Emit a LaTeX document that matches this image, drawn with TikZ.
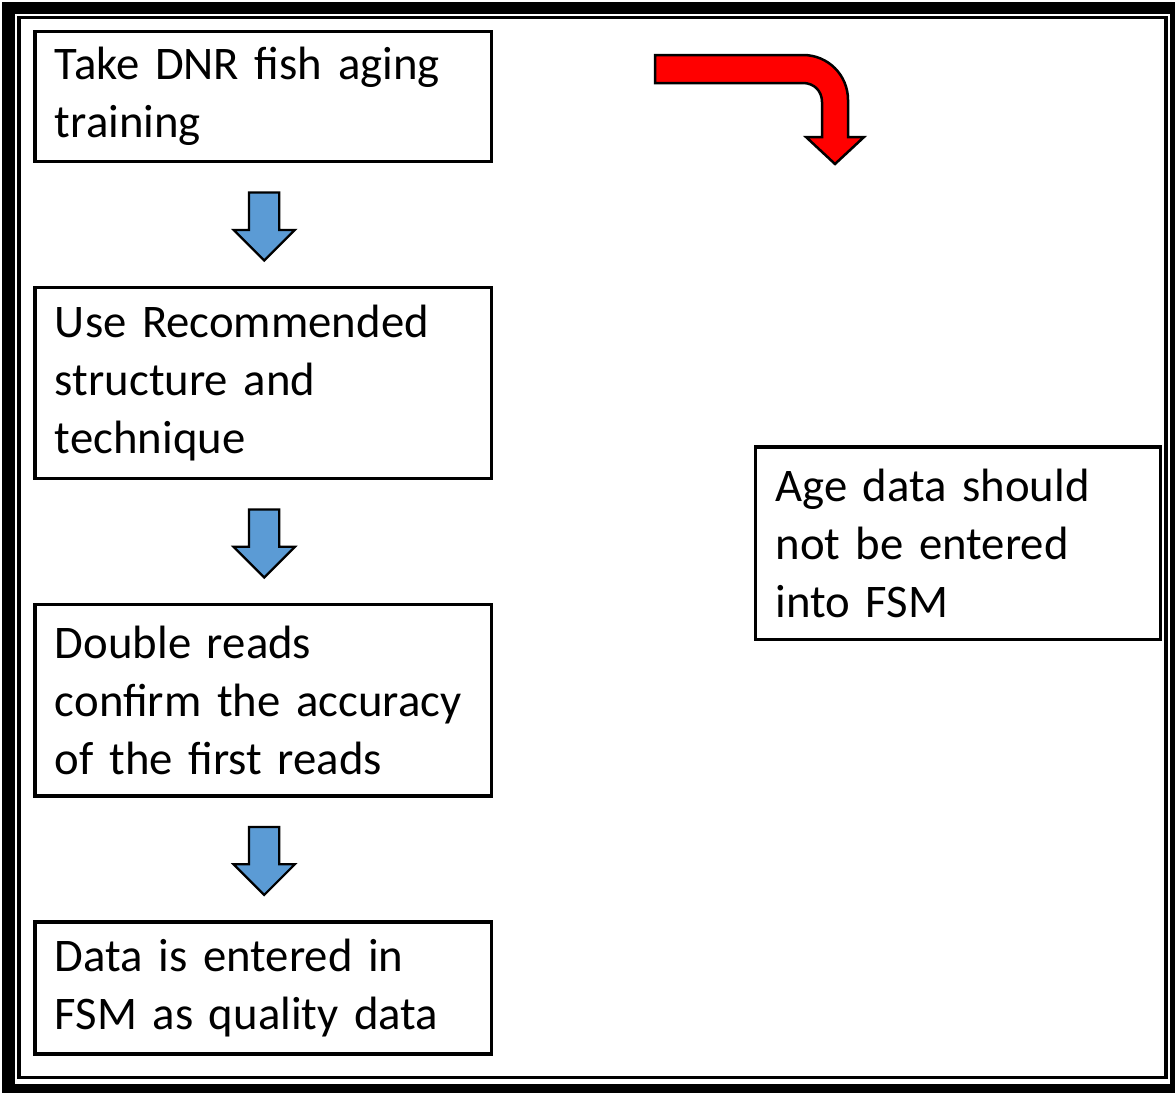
\documentclass[tikz,border=0pt]{standalone}
\usepackage{fontspec}
\setmainfont{Carlito}
\usetikzlibrary{positioning,shapes.arrows,calc}
\definecolor{arrowblue}{RGB}{91,155,213}

\begin{document}
\begin{tikzpicture}[x=0.02cm,y=-0.02cm,node distance=2.52cm,
	main node/.style={draw,line width=0.07cm,outer sep=0pt,inner xsep=0.4cm,minimum width=9.13cm,text width=8.33cm,align=left,font=\fontsize{26.6}{33}\selectfont},
	down arrow/.style={single arrow,draw,line width=0.045cm,fill=arrowblue,rotate=-90,inner sep=0.28cm,minimum height=1.36cm,single arrow head extend=0.31cm,xshift=-0.11cm,yshift=0.02cm}]
	
	\useasboundingbox (0,0) rectangle (1175,1092);
	\draw[line width=0.25cm] (8.5,8) rectangle (1176,1090);
	\draw[line width=0.07cm] (19,17.5) rectangle (1166,1077.5);
	
	\node[main node,minimum height=2.6cm,anchor=north west] (1) at (35,31.5) {Take DNR fish aging\\training};
	\node[main node,minimum height=3.82cm] (2) [below=of 1] {Use Recommended\\structure and\\technique};
	\node[main node,minimum height=3.83cm] (3) [below=of 2] {Double reads\\confirm the accuracy\\of the first reads};
	\node[main node,minimum height=2.64cm] (4) [below=of 3] {Data is entered in\\FSM as quality data};
	\node[main node,minimum width=8.1cm,text width=7.3cm,minimum height=3.85cm,anchor=north west] (5) at (755.5,447) {Age data should\\not be entered\\into FSM};
	
	\node[down arrow] (a1) at ($(1.south)!0.5!(2.north)$) {};
	\node[down arrow] (a2) at ($(2.south)!0.5!(3.north)$) {};
	\node[down arrow] (a3) at ($(3.south)!0.5!(4.north)$) {};
	
	\draw[line width=0.05cm,fill=red] (655,55) -- (803,55) .. controls (828,55) and (848,75) .. (848,100) -- (848,137) -- (864,137) -- (835,164) -- (806,137) -- (822,137) -- (822,102) .. controls (822,91) and (814,83) .. (803,83) -- (655,83) -- cycle;
	
\end{tikzpicture}
\end{document}
